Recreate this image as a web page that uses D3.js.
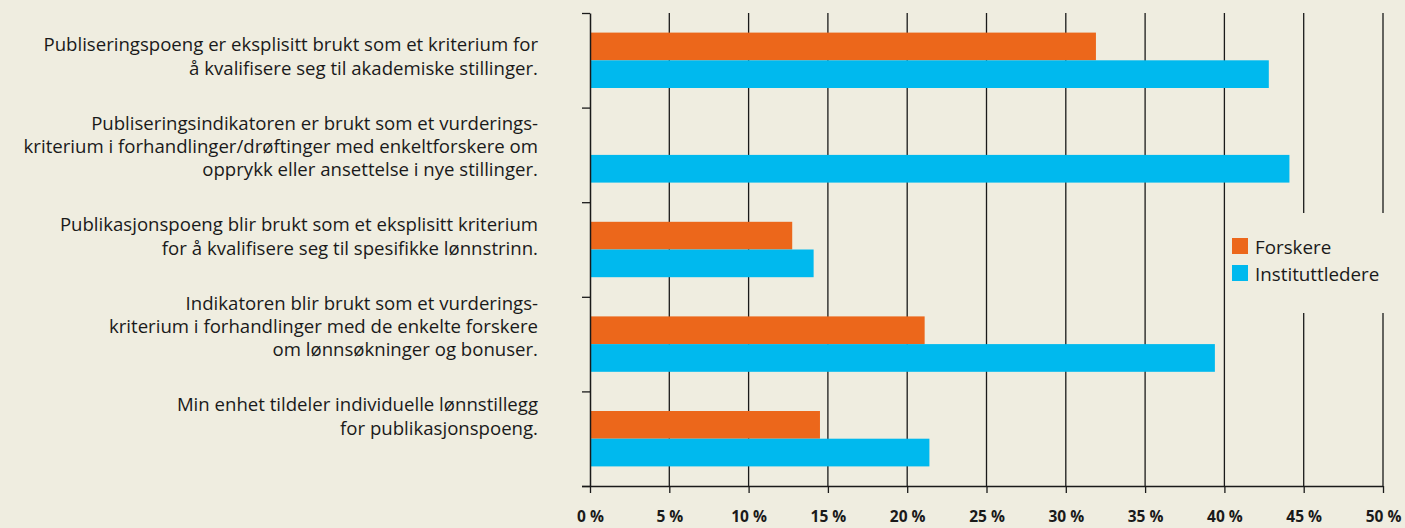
<!DOCTYPE html>
<html>
<head>
<meta charset="utf-8">
<script src="https://cdn.jsdelivr.net/npm/d3@7"></script>
<style>
  body { margin: 0; background: #efede0; }
  svg { display: block; }
  text { font-family: "Open Sans", "Noto Sans", sans-serif; fill: #1a1a1a; }
</style>
</head>
<body>
<div id="chart"></div>
<script>
// data
var categories = [
    ["Publiseringspoeng er eksplisitt brukt som et kriterium for", "å kvalifisere seg til akademiske stillinger."],
    ["Publiseringsindikatoren er brukt som et vurderings-", "kriterium i forhandlinger/drøftinger med enkeltforskere om", "opprykk eller ansettelse i nye stillinger."],
    ["Publikasjonspoeng blir brukt som et eksplisitt kriterium", "for å kvalifisere seg til spesifikke lønnstrinn."],
    ["Indikatoren blir brukt som et vurderings-", "kriterium i forhandlinger med de enkelte forskere", "om lønnsøkninger og bonuser."],
    ["Min enhet tildeler individuelle lønnstillegg", "for publikasjonspoeng."]
];
var series = ["Forskere", "Instituttledere"];
var forskere = [31.9, null, 12.75, 21.1, 14.5];
var instituttledere = [42.8, 44.1, 14.1, 39.4, 21.4];
var xTicks = [0, 5, 10, 15, 20, 25, 30, 35, 40, 45, 50];
var colors = ["#ec671b", "#00b9ee"];

var width = 1405,
    height = 528,
    margin = {top: 13, right: 20, bottom: 42, left: 590};

var svg = d3.select("#chart")
    .append("svg")
    .attr("width", width)
    .attr("height", height);

var innerH = height - margin.top - margin.bottom;

var x = d3.scaleLinear()
    .domain([0, 50])
    .range([margin.left, 1383]);

var y = d3.scaleBand()
    .domain(d3.range(categories.length))
    .range([margin.top, margin.top + innerH]);

var barH = 27.7;
var y1 = d3.scaleBand()
    .domain(series)
    .range([y.bandwidth() / 2 - barH, y.bandwidth() / 2 + barH]);

// tick scale for band boundaries
var yTick = d3.scaleLinear()
    .domain([0, categories.length])
    .range([margin.top, margin.top + innerH]);

// label blocks are not centred on the bands
var yLabel = d3.scalePoint()
    .domain(d3.range(categories.length))
    .range([57, 417]);

// gridlines
svg.append("g")
    .selectAll("line")
    .data(xTicks.slice(1))
    .join("line")
    .attr("x1", function(d) { return x(d); })
    .attr("x2", function(d) { return x(d); })
    .attr("y1", margin.top)
    .attr("y2", margin.top + innerH)
    .attr("stroke", "#1a1a1a")
    .attr("stroke-width", 1.3);

// bars
var rows = categories.map(function(c, i) {
    return {i: i, values: [forskere[i], instituttledere[i]]};
});

var group = svg.append("g")
    .selectAll("g")
    .data(rows)
    .join("g")
    .attr("transform", function(d) { return "translate(0," + y(d.i) + ")"; });

group.selectAll("rect")
    .data(function(d) {
        var vals = d.values.map(function(v, k) { return {s: series[k], v: v, k: k}; });
        // missing orange bar: blue bar keeps its own slot
        return vals.filter(function(e) { return e.v != null; });
    })
    .join("rect")
    .attr("x", x(0))
    .attr("y", function(d) { return y1(d.s); })
    .attr("width", function(d) { return x(d.v) - x(0); })
    .attr("height", y1.bandwidth())
    .attr("fill", function(d) { return colors[d.k]; });

// y axis
var yAxis = svg.append("g")
    .attr("transform", "translate(" + x(0) + ",0)")
    .call(d3.axisLeft(yTick).tickValues(d3.range(categories.length + 1)).tickFormat("").tickSize(8).tickSizeOuter(0));
yAxis.select(".domain").attr("stroke", "#1a1a1a").attr("stroke-width", 1.5);
yAxis.selectAll(".tick line").attr("stroke", "#1a1a1a").attr("stroke-width", 1.3);

// x axis
var xAxis = svg.append("g")
    .attr("transform", "translate(0," + (margin.top + innerH) + ")")
    .call(d3.axisBottom(x).tickValues(xTicks).tickSize(7).tickSizeOuter(0).tickFormat(function(d) { return d + " %"; }));
xAxis.select(".domain").attr("stroke", "#1a1a1a").attr("stroke-width", 1.5);
xAxis.select(".domain").attr("d", "M" + (x(0) - 8) + ",0.5H" + x(50));
xAxis.selectAll(".tick line").attr("stroke", "#1a1a1a").attr("stroke-width", 1.3);
xAxis.selectAll(".tick text")
    .attr("y", 36)
    .attr("dy", 0)
    .style("font-family", "'Open Sans', sans-serif")
    .style("font-weight", "bold")
    .style("font-size", "15.5px")
    .attr("fill", "#1a1a1a");

// category labels
var lineH = 23.2;
var labels = svg.append("g")
    .selectAll("text")
    .data(categories)
    .join("text")
    .attr("text-anchor", "end")
    .style("font-size", "18.6px")
    .attr("transform", function(d, i) {
        var first = yLabel(i) - (d.length - 1) * lineH / 2 + 6;
        return "translate(538," + first + ")";
    });

labels.selectAll("tspan")
    .data(function(d) { return d; })
    .join("tspan")
    .attr("x", 0)
    .attr("y", function(d, k) { return k * lineH; })
    .text(function(d) { return d; });

// legend, background box breaks the gridlines
var legend = svg.append("g");
legend.append("rect")
    .attr("x", 1226)
    .attr("y", 213)
    .attr("width", 175)
    .attr("height", 100)
    .attr("fill", "#efede0");

legend.selectAll(".key")
    .data(series)
    .join("rect")
    .attr("class", "key")
    .attr("x", 1232)
    .attr("y", function(d, i) { return 238 + i * 27; })
    .attr("width", 16)
    .attr("height", 16)
    .attr("fill", function(d, i) { return colors[i]; });

legend.selectAll(".lab")
    .data(series)
    .join("text")
    .attr("class", "lab")
    .attr("x", 1255)
    .attr("y", function(d, i) { return 254 + i * 27; })
    .style("font-size", "18.8px")
    .text(function(d) { return d; });
</script>
</body>
</html>
